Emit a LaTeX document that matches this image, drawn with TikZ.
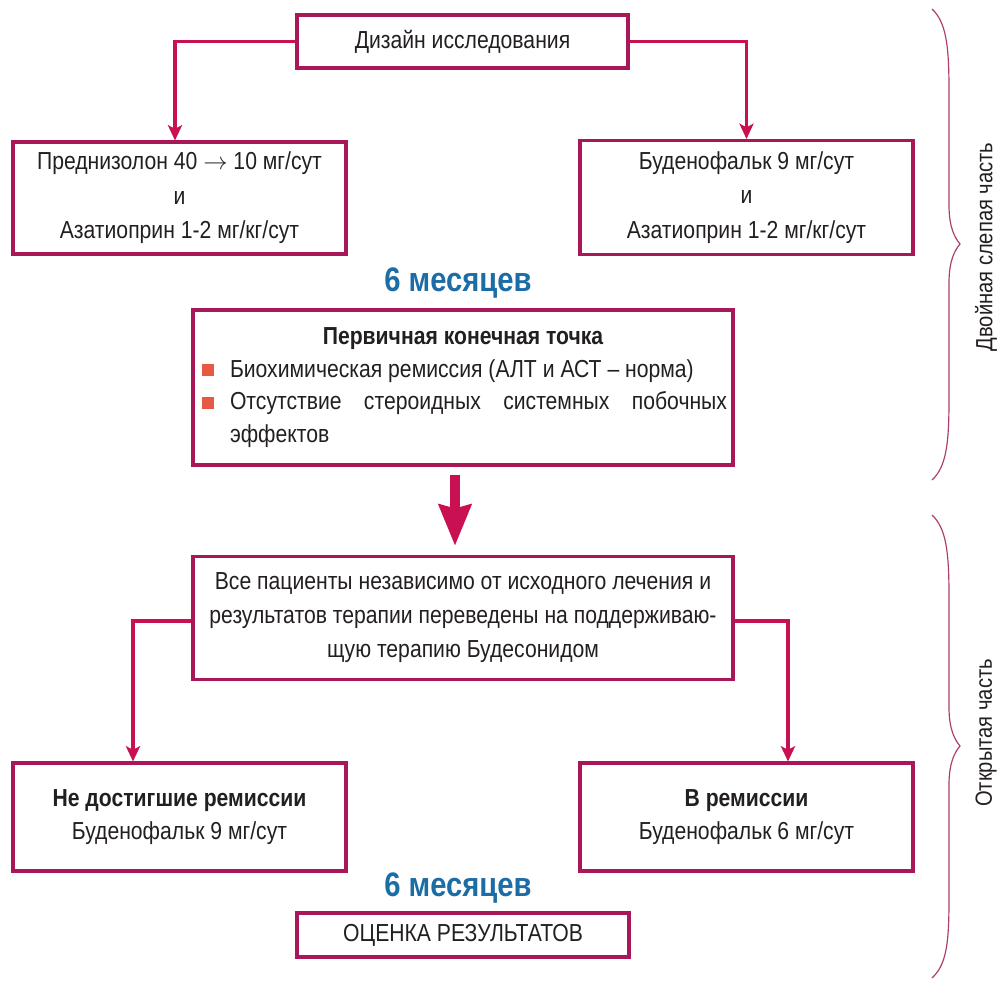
\documentclass[tikz,border=0pt]{standalone}
\usepackage{fontspec}
\setmainfont{Liberation Sans}[FakeStretch=0.86]
\usetikzlibrary{arrows.meta,calc}
\definecolor{frame}{RGB}{168,24,88}
\definecolor{arrowc}{RGB}{200,16,82}
\definecolor{bluet}{RGB}{28,108,165}
\definecolor{txt}{RGB}{35,31,32}
\definecolor{bul}{RGB}{232,88,66}
\definecolor{bracec}{RGB}{170,60,110}
\newdimen\px \px=0.03cm
\newcommand{\sqbul}{\textcolor{bul}{\raisebox{1\px}{\rule{12\px}{12\px}}}}
\begin{document}
\begin{tikzpicture}[x=0.03cm,y=-0.03cm,
  box/.style={draw=frame, line width=2.6pt, inner sep=0pt, align=center, text=txt,
    font=\fontsize{21}{29.5}\selectfont},
  wh/.style 2 args={minimum width=#1*0.03cm, minimum height=#2*0.03cm},
  conn/.style={draw=arrowc, line width=2.6pt, -{Stealth[length=13pt,width=12pt,inset=3pt]}},
  bigarrow/.style={draw=arrowc, line width=8.5pt, -{Stealth[length=35pt,width=27pt,inset=3pt]}},
  months/.style={text=bluet, font=\fontsize{29}{32}\selectfont\bfseries, inner sep=0pt},
  bracepath/.style={draw=bracec, line width=1pt},
  sidelab/.style={rotate=90, text=txt, font=\fontsize{20}{24}\selectfont, inner sep=0pt}
]
\useasboundingbox (0,0) rectangle (997,983);

% boxes
\node[box, wh={331}{53}] (b1) at (462.5,41.5) {Дизайн исследования};
\node[box, wh={333}{112}] (b2) at (179.5,198) {Преднизолон 40 $\rightarrow$ 10 мг/сут\\ и\\ Азатиоприн 1-2 мг/кг/сут};
\node[box, wh={333}{114}] (b3) at (746.5,197.5) {Буденофальк 9 мг/сут\\ и\\ Азатиоприн 1-2 мг/кг/сут};
\node[months] (m1) at (458,283) {6 месяцев};
\node[box, wh={540}{155}, font=\fontsize{21}{28}\selectfont] (b4) at (463,387.5) {%
  \begin{minipage}{532\px}
  \centerline{\bfseries Первичная конечная точка}\par
  \hspace*{5\px}\sqbul\hspace{16\px}Биохимическая ремиссия (АЛТ и АСТ – норма)\par
  \hspace*{5\px}\sqbul\hspace{16\px}\makebox[497\px][s]{Отсутствие стероидных системных побочных}\par
  \hspace*{33\px}эффектов
  \end{minipage}};
\node[box, wh={540}{123}, font=\fontsize{21}{29}\selectfont] (b5) at (463,618) {Все пациенты независимо от исходного лечения и\\ результатов терапии переведены на поддерживаю-\\ щую терапию Будесонидом};
\node[box, wh={333}{108}, font=\fontsize{21}{27.5}\selectfont] (b6) at (179.5,817) {{\bfseries Не достигшие ремиссии}\\ Буденофальк 9 мг/сут};
\node[box, wh={333}{108}, font=\fontsize{21}{27.5}\selectfont] (b7) at (746.5,817) {{\bfseries В ремиссии}\\ Буденофальк 6 мг/сут};
\node[months] (m2) at (458,888) {6 месяцев};
\node[box, wh={332}{44}] (b8) at (463,935) {ОЦЕНКА РЕЗУЛЬТАТОВ};

% connectors
\draw[conn] (b1.west) -| ([xshift=-4.5*0.03cm]b2.north);
\draw[conn] (b1.east) -| (b3.north);
\draw[bigarrow, shorten <=8*0.03cm, shorten >=9*0.03cm] ([xshift=-8*0.03cm]b4.south) -- ([xshift=-8*0.03cm]b5.north);
\draw[conn] ([yshift=-3*0.03cm]b5.west) -| ([xshift=-46.5*0.03cm]b6.north);
\draw[conn] ([yshift=-3*0.03cm]b5.east) -| ([xshift=41.5*0.03cm]b7.north);

% braces
\draw[bracepath] (932,9) .. controls (946,22) and (949,45) .. (949,90) -- (949,205)
  .. controls (949,228) and (955,238) .. (960,244) .. controls (955,250) and (949,260) .. (949,283)
  -- (949,400) .. controls (949,445) and (946,467) .. (932,480);
\draw[bracepath] (932,515) .. controls (946,528) and (949,551) .. (949,596) -- (949,707)
  .. controls (949,730) and (955,740) .. (960,746) .. controls (955,752) and (949,762) .. (949,785)
  -- (949,900) .. controls (949,945) and (946,965) .. (932,978);
\node[sidelab] (l1) at (986,247) {Двойная слепая часть};
\node[sidelab] (l2) at (986,733) {Открытая часть};
\end{tikzpicture}
\end{document}
